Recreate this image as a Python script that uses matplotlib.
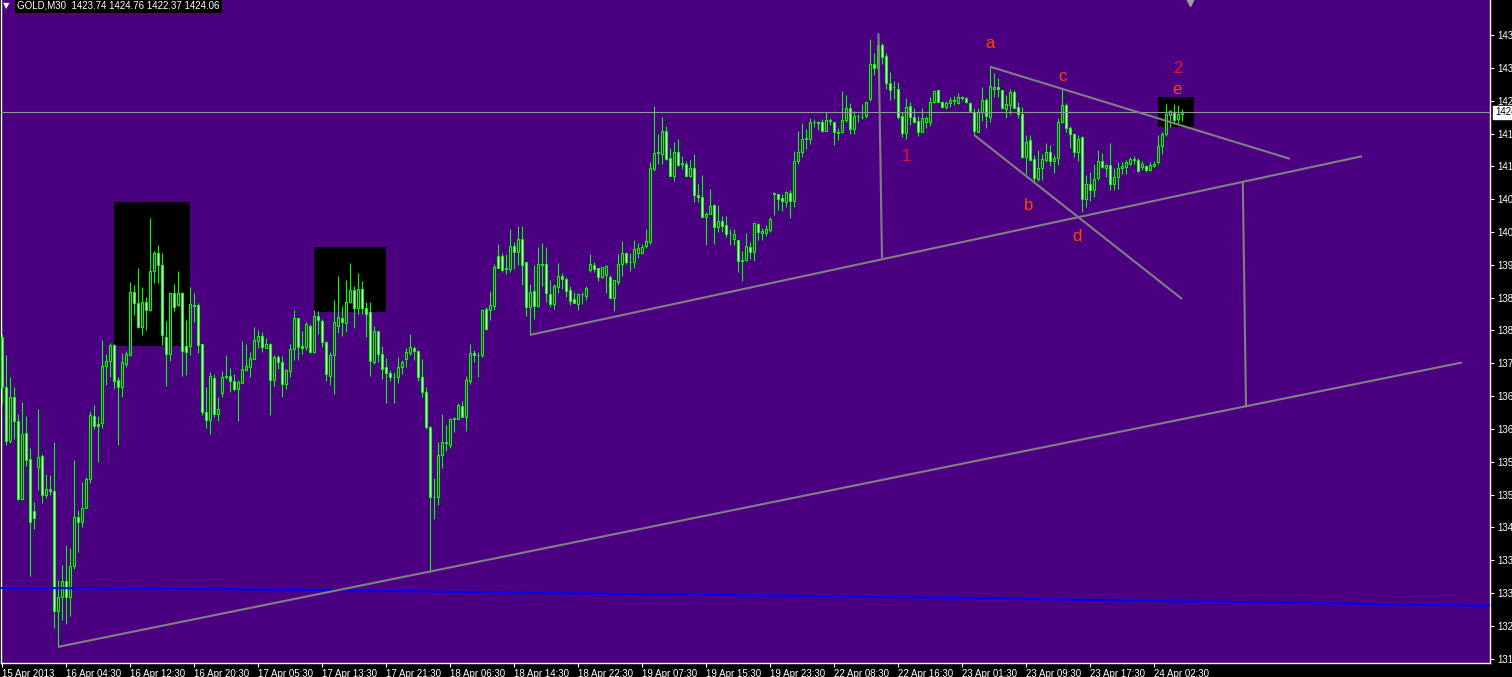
import numpy as np
import matplotlib
matplotlib.use('Agg')
from matplotlib import pyplot as plt
from matplotlib.patches import Rectangle
import matplotlib.transforms as mtransforms

plt.rcParams['font.family'] = ['Liberation Sans', 'DejaVu Sans']

# GOLD M30, 15 Apr 2013 .. 24 Apr 2013, one entry per bar
opens = [
    1380.8, 1371.2, 1361.0, 1369.3, 1364.8, 1349.8, 1362.4, 1357.4, 1347.5, 1356.0,
    1358.1, 1350.5, 1351.8, 1351.4, 1328.2, 1330.9, 1334.0, 1330.9, 1337.0, 1346.3,
    1345.3, 1348.1, 1353.6, 1365.7, 1364.1, 1364.3, 1375.4, 1376.2, 1379.4, 1372.6,
    1371.2, 1375.8, 1377.5, 1389.5, 1387.4, 1382.8, 1387.6, 1386.0, 1393.5, 1397.0,
    1394.7, 1380.8, 1377.6, 1389.3, 1387.0, 1389.3, 1379.1, 1379.1, 1387.0, 1387.0,
    1379.5, 1366.4, 1364.9, 1373.0, 1366.2, 1370.1, 1373.5, 1373.5, 1372.4, 1371.0,
    1372.1, 1374.6, 1375.2, 1376.7, 1380.2, 1381.1, 1378.8, 1379.6, 1372.7, 1377.1,
    1376.1, 1371.8, 1374.4, 1378.5, 1384.5, 1379.2, 1379.0, 1383.1, 1378.0, 1384.9,
    1383.9, 1379.9, 1373.5, 1377.4, 1383.0, 1384.5, 1383.5, 1387.6, 1389.9, 1386.5,
    1390.2, 1386.4, 1385.6, 1376.0, 1382.0, 1377.6, 1375.1, 1373.9, 1373.3, 1373.2,
    1375.1, 1376.6, 1377.8, 1378.8, 1378.3, 1373.2, 1370.3, 1363.7, 1350.1, 1350.1,
    1358.2, 1360.5, 1360.2, 1365.2, 1365.2, 1367.6, 1365.6, 1372.5, 1377.8, 1377.5,
    1377.4, 1386.3, 1386.1, 1386.9, 1396.5, 1396.5, 1394.1, 1394.0, 1398.4, 1397.3,
    1399.7, 1395.2, 1386.6, 1389.7, 1386.9, 1394.9, 1394.9, 1389.1, 1387.3, 1390.4,
    1392.7, 1392.0, 1389.9, 1388.2, 1387.3, 1389.2, 1388.8, 1393.8, 1394.7, 1394.1,
    1392.5, 1392.8, 1392.5, 1388.3, 1391.5, 1395.0, 1397.0, 1395.2, 1395.2, 1397.0,
    1397.1, 1398.3, 1399.1, 1413.2, 1416.2, 1416.1, 1420.4, 1415.2, 1411.9, 1416.5,
    1414.2, 1414.1, 1411.8, 1413.3, 1408.1, 1407.7, 1404.0, 1404.6, 1406.2, 1402.1,
    1403.2, 1402.4, 1400.8, 1399.7, 1399.5, 1395.6, 1395.6, 1398.2, 1397.3, 1402.5,
    1400.9, 1400.9, 1401.5, 1408.3, 1408.3, 1407.5, 1406.8, 1408.6, 1407.1, 1414.7,
    1416.4, 1419.0, 1419.0, 1422.1, 1422.2, 1422.2, 1420.5, 1422.5, 1422.1, 1420.2,
    1420.2, 1422.5, 1424.8, 1420.8, 1423.3, 1423.1, 1423.3, 1426.6, 1433.4, 1432.5,
    1437.0, 1434.9, 1429.6, 1428.9, 1428.6, 1423.3, 1420.0, 1425.2, 1423.1, 1422.4,
    1420.3, 1422.1, 1422.1, 1426.1, 1428.3, 1426.1, 1425.0, 1425.8, 1426.4, 1425.8,
    1427.0, 1426.7, 1425.9, 1424.0, 1420.3, 1424.0, 1426.4, 1423.2, 1428.5, 1428.8,
    1428.3, 1424.6, 1425.5, 1427.9, 1425.0, 1423.8, 1415.4, 1418.7, 1415.0, 1411.2,
    1413.3, 1414.9, 1416.5, 1414.6, 1415.2, 1422.1, 1425.4, 1421.1, 1419.8, 1416.4,
    1419.2, 1407.3, 1410.2, 1409.1, 1411.4, 1414.6, 1413.3, 1413.9, 1410.2, 1411.7,
    1413.3, 1413.6, 1414.2, 1415.0, 1414.9, 1413.6, 1413.8, 1413.0, 1413.8, 1414.4,
    1417.6, 1419.8, 1423.6, 1424.0, 1422.7, 1423.74,
]
highs = [
    1381.5, 1377.4, 1373.2, 1371.3, 1366.1, 1368.4, 1365.7, 1359.5, 1349.2, 1367.1,
    1358.4, 1354.6, 1354.4, 1360.7, 1334.2, 1337.1, 1341.0, 1340.4, 1357.3, 1347.7,
    1353.1, 1354.0, 1366.6, 1367.8, 1365.7, 1380.3, 1377.6, 1379.7, 1379.6, 1373.2,
    1377.8, 1378.2, 1391.5, 1390.8, 1394.1, 1390.5, 1388.6, 1403.7, 1397.4, 1398.6,
    1397.0, 1384.0, 1389.4, 1391.1, 1393.6, 1389.6, 1384.2, 1390.5, 1389.3, 1387.4,
    1379.6, 1371.3, 1374.1, 1373.8, 1369.3, 1374.4, 1377.4, 1374.9, 1373.7, 1372.6,
    1380.1, 1379.6, 1378.0, 1382.8, 1382.2, 1381.9, 1380.7, 1379.7, 1377.5, 1377.4,
    1377.3, 1374.8, 1379.6, 1386.1, 1384.6, 1382.1, 1383.8, 1383.3, 1386.1, 1385.8,
    1384.4, 1380.1, 1378.0, 1388.0, 1392.6, 1386.9, 1391.8, 1395.1, 1390.7, 1393.2,
    1391.6, 1387.7, 1387.7, 1383.1, 1382.1, 1379.2, 1376.9, 1374.6, 1374.2, 1377.0,
    1376.5, 1378.7, 1381.5, 1379.2, 1378.4, 1376.6, 1371.3, 1363.8, 1353.8, 1360.7,
    1366.1, 1364.0, 1365.4, 1365.6, 1368.2, 1368.6, 1373.5, 1379.6, 1378.4, 1378.0,
    1386.2, 1386.7, 1389.7, 1394.9, 1398.8, 1397.0, 1396.8, 1401.6, 1399.1, 1402.2,
    1402.2, 1395.3, 1391.1, 1394.7, 1398.1, 1398.9, 1398.2, 1391.8, 1391.1, 1395.1,
    1393.2, 1392.4, 1390.6, 1389.5, 1389.3, 1389.5, 1390.7, 1396.8, 1395.2, 1394.2,
    1394.4, 1394.8, 1392.8, 1391.8, 1396.8, 1399.3, 1397.3, 1397.0, 1399.5, 1399.0,
    1398.8, 1401.6, 1414.5, 1425.3, 1419.9, 1423.1, 1421.4, 1417.1, 1418.3, 1419.0,
    1415.7, 1414.7, 1414.9, 1416.0, 1410.3, 1412.0, 1404.8, 1409.4, 1406.4, 1406.2,
    1404.1, 1404.1, 1401.6, 1401.6, 1399.6, 1397.5, 1400.9, 1399.1, 1402.8, 1402.8,
    1401.9, 1402.4, 1403.9, 1408.7, 1408.4, 1408.3, 1408.9, 1409.1, 1416.7, 1420.5,
    1422.0, 1420.8, 1422.9, 1422.8, 1422.4, 1422.7, 1424.0, 1422.9, 1422.2, 1421.0,
    1428.1, 1427.4, 1425.8, 1424.3, 1423.8, 1425.6, 1426.2, 1438.1, 1435.4, 1439.2,
    1437.3, 1435.4, 1431.7, 1430.1, 1429.8, 1424.0, 1426.7, 1426.0, 1424.8, 1423.3,
    1424.8, 1423.4, 1427.0, 1428.3, 1428.4, 1426.3, 1426.2, 1427.0, 1427.2, 1427.7,
    1427.1, 1426.9, 1426.0, 1424.8, 1424.8, 1428.8, 1426.7, 1432.8, 1431.5, 1430.6,
    1428.4, 1427.4, 1428.6, 1428.3, 1426.1, 1425.1, 1419.7, 1419.7, 1415.8, 1416.8,
    1416.0, 1418.1, 1417.8, 1415.8, 1423.0, 1428.5, 1425.8, 1421.5, 1420.0, 1419.7,
    1419.4, 1412.0, 1412.6, 1414.2, 1416.8, 1416.2, 1414.2, 1418.1, 1413.3, 1414.4,
    1414.4, 1414.9, 1415.5, 1415.7, 1415.3, 1414.6, 1413.9, 1414.4, 1414.6, 1419.7,
    1420.3, 1425.6, 1424.5, 1425.6, 1425.4, 1424.76,
]
lows = [
    1368.0, 1360.2, 1360.5, 1361.3, 1349.6, 1349.6, 1356.2, 1335.1, 1344.0, 1351.5,
    1349.0, 1350.0, 1350.6, 1325.1, 1321.4, 1326.6, 1325.7, 1327.4, 1336.3, 1339.7,
    1344.5, 1348.0, 1352.9, 1363.3, 1356.8, 1363.5, 1371.6, 1373.3, 1371.0, 1360.2,
    1369.3, 1375.2, 1377.3, 1385.2, 1382.6, 1381.2, 1382.3, 1385.8, 1391.2, 1391.2,
    1379.4, 1371.4, 1376.3, 1385.8, 1386.8, 1373.5, 1373.6, 1377.5, 1383.7, 1377.9,
    1365.9, 1363.4, 1362.3, 1365.5, 1364.8, 1369.3, 1372.8, 1370.4, 1370.5, 1364.8,
    1372.0, 1374.4, 1373.3, 1376.6, 1378.8, 1378.0, 1378.7, 1365.9, 1371.4, 1374.7,
    1369.4, 1370.9, 1373.3, 1376.5, 1376.5, 1377.6, 1378.4, 1377.9, 1377.9, 1381.4,
    1379.0, 1372.5, 1371.6, 1370.0, 1381.6, 1381.0, 1381.9, 1387.4, 1382.7, 1385.4,
    1385.4, 1380.8, 1373.5, 1375.8, 1376.0, 1372.9, 1368.3, 1372.5, 1368.3, 1372.1,
    1373.8, 1375.2, 1377.5, 1376.4, 1372.5, 1369.3, 1363.3, 1335.8, 1346.0, 1348.7,
    1355.7, 1359.1, 1359.5, 1362.7, 1365.1, 1365.5, 1362.9, 1371.9, 1376.1, 1373.2,
    1377.0, 1382.2, 1384.2, 1386.0, 1394.1, 1393.4, 1393.0, 1393.4, 1394.0, 1394.8,
    1390.9, 1384.9, 1381.3, 1384.4, 1386.7, 1390.7, 1387.6, 1386.7, 1386.3, 1389.4,
    1390.1, 1388.6, 1387.1, 1387.4, 1386.1, 1387.3, 1388.0, 1393.4, 1393.4, 1391.7,
    1392.3, 1389.4, 1388.1, 1385.8, 1390.9, 1392.7, 1395.0, 1393.6, 1394.1, 1396.1,
    1396.9, 1397.9, 1398.8, 1412.8, 1414.1, 1414.2, 1414.8, 1411.8, 1410.9, 1413.8,
    1413.1, 1411.8, 1411.7, 1406.9, 1406.9, 1403.9, 1398.6, 1404.5, 1398.8, 1401.1,
    1401.1, 1400.0, 1398.6, 1398.6, 1393.3, 1391.7, 1395.5, 1395.9, 1395.4, 1399.5,
    1399.5, 1400.3, 1401.1, 1404.3, 1405.2, 1405.0, 1405.9, 1403.8, 1405.9, 1414.1,
    1415.5, 1416.9, 1418.0, 1421.3, 1420.7, 1420.3, 1420.4, 1421.6, 1417.8, 1418.8,
    1420.1, 1422.2, 1419.9, 1419.9, 1422.2, 1422.8, 1422.9, 1426.2, 1431.2, 1431.2,
    1433.4, 1428.6, 1426.4, 1426.6, 1422.8, 1419.3, 1419.0, 1421.6, 1422.1, 1419.4,
    1420.2, 1421.1, 1421.5, 1425.9, 1426.0, 1424.8, 1424.7, 1425.0, 1425.4, 1425.6,
    1426.4, 1425.8, 1424.0, 1419.7, 1420.2, 1422.4, 1421.1, 1422.2, 1427.0, 1426.9,
    1424.7, 1422.9, 1423.8, 1424.8, 1422.9, 1415.2, 1412.1, 1414.6, 1410.4, 1410.9,
    1411.0, 1414.4, 1413.8, 1412.3, 1413.9, 1421.9, 1420.3, 1417.1, 1415.5, 1414.6,
    1404.8, 1405.9, 1407.1, 1407.8, 1411.0, 1413.3, 1411.7, 1409.1, 1409.1, 1409.4,
    1412.1, 1412.1, 1413.9, 1414.2, 1412.6, 1413.0, 1412.5, 1412.8, 1413.6, 1414.2,
    1416.1, 1419.4, 1421.3, 1421.7, 1421.6, 1422.37,
]
closes = [
    1371.2, 1361.0, 1369.3, 1364.8, 1349.8, 1362.3, 1357.2, 1345.4, 1346.1, 1357.8,
    1350.5, 1351.8, 1351.4, 1328.2, 1330.9, 1334.0, 1330.9, 1337.0, 1346.3, 1345.3,
    1348.0, 1353.6, 1365.9, 1363.9, 1363.9, 1375.3, 1376.3, 1379.4, 1372.5, 1371.2,
    1376.0, 1377.6, 1389.5, 1387.4, 1382.8, 1387.7, 1386.0, 1393.5, 1397.0, 1394.7,
    1381.2, 1377.6, 1389.3, 1386.7, 1389.3, 1378.3, 1378.1, 1387.2, 1386.8, 1379.3,
    1366.4, 1364.9, 1373.5, 1366.2, 1367.0, 1373.3, 1373.2, 1372.5, 1371.0, 1372.3,
    1374.7, 1375.3, 1376.9, 1380.3, 1381.1, 1378.9, 1379.6, 1372.7, 1377.1, 1376.0,
    1371.8, 1374.6, 1378.5, 1384.5, 1378.9, 1378.7, 1383.3, 1378.0, 1384.9, 1384.1,
    1379.9, 1373.7, 1377.4, 1383.7, 1384.7, 1383.7, 1387.6, 1389.9, 1386.5, 1390.2,
    1386.4, 1385.4, 1376.2, 1382.0, 1377.6, 1374.8, 1373.9, 1373.2, 1373.2, 1375.2,
    1376.0, 1378.0, 1379.0, 1378.3, 1373.2, 1370.3, 1363.6, 1350.1, 1350.2, 1358.2,
    1360.7, 1360.7, 1365.2, 1365.4, 1367.8, 1365.6, 1372.6, 1377.8, 1377.4, 1377.4,
    1386.1, 1382.5, 1387.0, 1394.3, 1394.2, 1393.7, 1394.0, 1398.4, 1397.3, 1399.7,
    1394.8, 1386.7, 1389.5, 1386.9, 1394.9, 1394.7, 1389.3, 1387.3, 1390.7, 1392.7,
    1392.1, 1389.8, 1387.9, 1387.5, 1389.1, 1389.1, 1390.3, 1394.9, 1394.0, 1392.5,
    1394.3, 1394.6, 1388.3, 1391.8, 1395.0, 1397.0, 1395.2, 1395.3, 1397.7, 1397.9,
    1398.1, 1399.3, 1413.3, 1416.2, 1416.4, 1420.4, 1415.0, 1411.9, 1416.5, 1413.9,
    1414.3, 1411.9, 1413.4, 1408.1, 1407.7, 1404.0, 1404.6, 1406.0, 1402.1, 1403.1,
    1402.3, 1400.7, 1400.9, 1400.7, 1395.4, 1395.5, 1398.4, 1397.3, 1402.7, 1401.0,
    1401.2, 1401.6, 1403.5, 1408.5, 1407.3, 1407.0, 1408.8, 1407.1, 1414.7, 1416.5,
    1419.0, 1419.1, 1422.1, 1422.2, 1422.0, 1420.5, 1422.5, 1422.3, 1420.2, 1420.1,
    1422.5, 1424.8, 1420.8, 1423.4, 1423.4, 1423.2, 1426.1, 1433.4, 1432.6, 1437.0,
    1434.7, 1429.6, 1428.3, 1428.8, 1423.2, 1420.0, 1425.0, 1423.1, 1422.2, 1420.3,
    1422.9, 1423.0, 1426.1, 1428.1, 1426.1, 1425.1, 1425.9, 1426.4, 1426.3, 1427.0,
    1426.7, 1426.1, 1424.2, 1420.5, 1424.0, 1426.4, 1423.4, 1429.0, 1428.8, 1428.6,
    1424.8, 1425.6, 1427.9, 1424.9, 1423.8, 1415.4, 1418.3, 1414.9, 1411.4, 1413.3,
    1415.1, 1416.5, 1414.6, 1415.2, 1422.1, 1425.4, 1421.1, 1419.8, 1416.5, 1419.0,
    1407.3, 1410.2, 1409.1, 1411.2, 1414.6, 1413.6, 1413.9, 1410.2, 1411.7, 1413.3,
    1413.7, 1414.4, 1415.1, 1414.9, 1412.8, 1414.2, 1413.0, 1413.9, 1414.2, 1417.6,
    1419.8, 1423.8, 1424.2, 1422.5, 1423.8, 1424.06,
]

bid = 1424.06
title = 'GOLD,M30  1423.74 1424.76 1422.37 1424.06'

# time axis labels, one every 16 bars
xtick_bars = [0, 16, 32, 48, 64, 80, 96, 112, 128, 144, 160, 176, 192, 208, 224, 240, 256, 272, 288]
xtick_labels = ['15 Apr 2013', '16 Apr 04:30', '16 Apr 12:30', '16 Apr 20:30', '17 Apr 05:30',
                '17 Apr 13:30', '17 Apr 21:30', '18 Apr 06:30', '18 Apr 14:30', '18 Apr 22:30',
                '19 Apr 07:30', '19 Apr 15:30', '19 Apr 23:30', '22 Apr 08:30', '22 Apr 16:30',
                '23 Apr 01:30', '23 Apr 09:30', '23 Apr 17:30', '24 Apr 02:30']

ytick_values = [1438.85, 1432.55, 1426.25, 1419.95, 1413.65, 1407.35, 1401.05, 1394.75, 1388.45, 1382.15,
                1375.85, 1369.55, 1363.25, 1356.95, 1350.65, 1344.35, 1338.05, 1331.75, 1325.45, 1319.15]

# slow moving average (blue)
ma_bars = [-0.5, 40, 80, 120, 160, 200, 240, 280, 320, 372]
ma_values = [1332.7, 1332.6, 1332.3, 1331.9, 1331.5, 1331.2, 1330.8, 1330.3, 1329.9, 1329.3]

# black rectangles: bar range and price range
box_bars = [(28, 47), (78, 96), (289, 298)]
box_prices = [(1379.2, 1406.8), (1385.7, 1398.2), (1421.3, 1427.0)]

# trend lines: bar0, price0, bar1, price1
trend_lines = [
    (14, 1321.4, 365, 1376.0),
    (132, 1381.3, 340, 1415.6),
    (247, 1432.8, 322, 1415.1),
    (243, 1419.7, 295, 1388.2),
    (219.1, 1439.2, 220, 1396.1),
    (310.2, 1410.7, 311, 1367.4),
]

# wave labels
wave_text = ['a', 'b', 'c', 'd', 'e', '1', '2']
wave_bars = [247, 256.75, 265, 268.75, 293.75, 226, 294]
wave_prices = [1437.2, 1406.2, 1431.0, 1400.1, 1428.5, 1415.5, 1432.5]
wave_colors = ['#FF4500', '#FF4500', '#FF4500', '#FF4500', '#FF4500', '#E8142E', '#E8142E']

bg = '#4B0082'
lime = '#00FF00'

fig = plt.figure(figsize=(15.12, 6.77), dpi=100, facecolor='black')
ax = fig.add_axes([1 / 1512, 14 / 677, 1489 / 1512, 663 / 677])
ax.set_facecolor(bg)

o = np.array(opens)
h = np.array(highs)
l = np.array(lows)
c = np.array(closes)
x = np.arange(len(c))
fills = np.where(c < o, 'white', bg)

for (b0, b1), (p0, p1) in zip(box_bars, box_prices):
    ax.add_patch(Rectangle((b0, p0), b1 - b0, p1 - p0, facecolor='black', edgecolor='none', zorder=1))

ax.vlines(x, l, h, color=lime, linewidth=0.8, zorder=3)
ax.bar(x, np.abs(c - o), bottom=np.minimum(o, c), width=0.55, color=fills,
       edgecolor=lime, linewidth=0.8, zorder=4)

ax.axhline(bid, color='#8c9c94', linewidth=0.8, zorder=5)
ax.plot(ma_bars, ma_values, color='#0000FF', linewidth=1.5, zorder=5)
for b0, p0, b1, p1 in trend_lines:
    ax.plot([b0, b1], [p0, p1], color='#808080', linewidth=1.5, zorder=6, solid_capstyle='butt')

for s, b, p, col in zip(wave_text, wave_bars, wave_prices, wave_colors):
    ax.text(b, p, s, color=col, fontsize=12, ha='center', va='center', zorder=7)

ax.set_xlim(-0.25, 372)
ax.set_ylim(1318.3, 1445.6)

ax.set_xticks(xtick_bars)
ax.set_xticklabels(xtick_labels, ha='left')
ax.tick_params(axis='x', colors='white', length=3, width=0.8, pad=1, labelsize=7)

ax.yaxis.tick_right()
ax.set_yticks(ytick_values)
ax.set_yticklabels(['%.2f' % v for v in ytick_values])
ax.tick_params(axis='y', colors='white', length=3, width=0.8, pad=2, labelsize=7)

for side in ['left', 'right', 'bottom']:
    ax.spines[side].set_color('white')
    ax.spines[side].set_linewidth(1)
ax.spines['top'].set_visible(False)

# current bid label on the price scale
ax.annotate('%.2f' % bid, xy=(1, bid), xycoords=('axes fraction', 'data'),
            xytext=(5, 0), textcoords='offset pixels', ha='left', va='center',
            fontsize=7, color='black', annotation_clip=False,
            bbox=dict(facecolor='white', edgecolor='white', pad=1.2))

# chart-shift marker at the top
trans = mtransforms.blended_transform_factory(ax.transData, ax.transAxes)
ax.plot([297], [0.997], marker='v', markersize=6, color='#a0a0a0', transform=trans, clip_on=False, zorder=8)

fig.text(3 / 1512, 1 - 6 / 677, '\u25bc', color='white', fontsize=6, va='center', ha='left',
         family=['DejaVu Sans'])
fig.text(17 / 1512, 1 - 6 / 677, title, color='white', fontsize=7, va='center', ha='left',
         bbox=dict(facecolor='black', edgecolor='none', pad=1.5))

fig.savefig('out.png', dpi=100, facecolor='black')
